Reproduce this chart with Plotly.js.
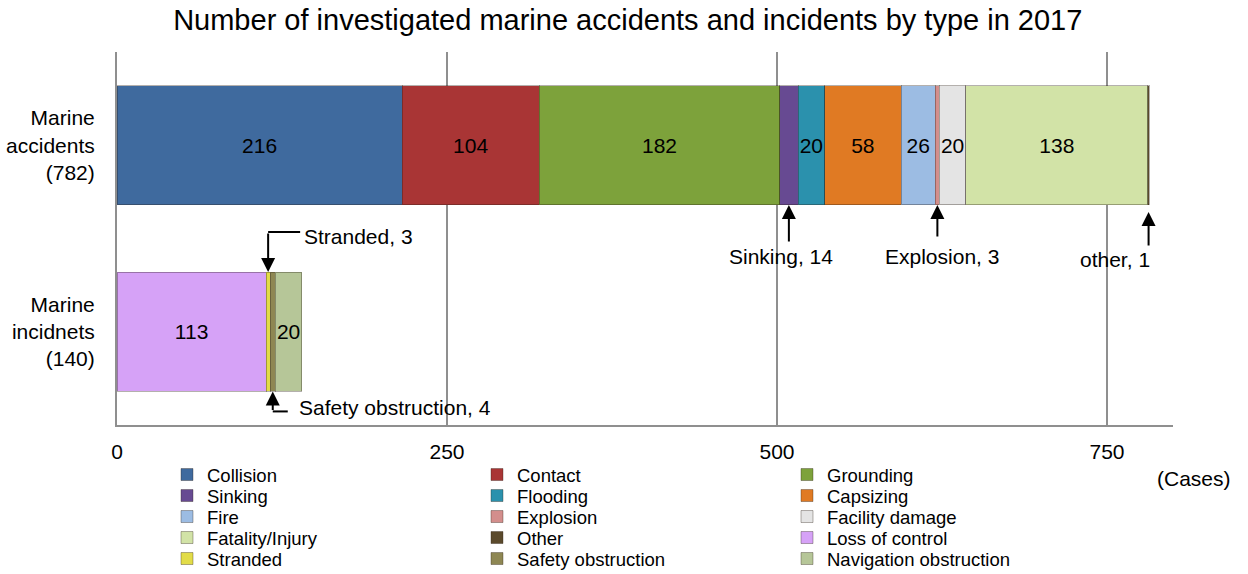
<!DOCTYPE html>
<html><head><meta charset="utf-8">
<script src="https://cdn.plot.ly/plotly-3.0.1.min.js"></script>
<style>html,body{margin:0;padding:0;background:#fff}#chart{width:1248px;height:574px}</style>
</head><body><div id="chart"></div>
<script>
const categories = ['Marine<br>accidents<br>(782)', 'Marine<br>incidnets<br>(140)'];
const types = ['Collision','Contact','Grounding','Sinking','Flooding','Capsizing','Fire','Explosion','Facility damage','Fatality/Injury','Other','Loss of control','Stranded','Safety obstruction','Navigation obstruction'];
const accidents = [216,104,182,14,20,58,26,3,20,138,1,null,null,null,null];
const incidents = [null,null,null,null,null,null,null,null,null,null,null,113,3,4,20];
const colors = ['#3F6A9E','#A93535','#7DA23B','#674A92','#2B91AD','#E07A23','#9CBCE3','#D38E8C','#E4E4E4','#D2E3A7','#5B4A2C','#D6A2F7','#E2DC48','#8E8753','#B6C698'];
const xTicks = [0, 250, 500, 750];
const calloutNames = {'Sinking':'Sinking','Explosion':'Explosion','Other':'other','Stranded':'Stranded','Safety obstruction':'Safety obstruction'};

const FONT = 'Liberation Sans, Arial, sans-serif';
const W = 1248, H = 574;
const M = {l:117, r:75, t:52, b:149};
const bargap = 0.36;
const half = (1 - bargap) / 2;
const pxPerCat = (H - M.t - M.b) / categories.length;

// cumulative starts
const starts = types.map(() => [0, 0]);
const cum = [0, 0];
types.forEach((t, i) => {
  [accidents[i], incidents[i]].forEach((v, c) => {
    starts[i][c] = cum[c];
    if (v) cum[c] += v;
  });
});

const traces = types.map((t, i) => {
  const vals = [accidents[i], incidents[i]];
  return {
    type: 'bar', orientation: 'h', name: t,
    x: vals, y: categories,
    marker: {color: colors[i], line: {color: 'rgba(40,30,20,0.35)', width: 1}},
    text: vals.map(v => (v != null && v >= 20) ? String(v) : ''),
    textposition: 'inside', insidetextanchor: 'middle', textangle: 0,
    constraintext: 'none',
    textfont: {family: FONT, size: 21, color: '#000'},
    legend: Math.floor(i / 3) === 0 ? 'legend' : 'legend' + (Math.floor(i / 3) + 1),
    hoverinfo: 'name+x'
  };
});

function idx(name) { return types.indexOf(name); }
function center(name, c) { const i = idx(name); const v = c === 0 ? accidents[i] : incidents[i]; return starts[i][c] + v / 2; }
function val(name) { const i = idx(name); return accidents[i] != null ? accidents[i] : incidents[i]; }
function label(name) { return calloutNames[name] + ', ' + val(name); }

const annFont = {family: FONT, size: 21, color: '#000'};
const arrowStyle = {showarrow: true, arrowhead: 2, arrowsize: 1.4, arrowwidth: 2, arrowcolor: '#000'};
const annotations = [];
const shapes = [];

// Vertical arrows below the accidents bar
[['Sinking', 38, 0, -8, 'center', -38], ['Explosion', 33, 0, 5, 'center', -38], ['Other', 42, 7, 3, 'right', -41]].forEach(([n, ay, standoff, xs, xa, ys]) => {
  const cx = center(n, 0);
  annotations.push(Object.assign({x: cx, y: 0 + half, xref: 'x', yref: 'y', text: '', ax: 0, ay: ay, standoff: standoff}, arrowStyle));
  annotations.push({x: cx, y: 0 + half, xref: 'x', yref: 'y', text: label(n), showarrow: false, xanchor: xa, xshift: xs, yanchor: 'top', yshift: ys, font: annFont});
});

// Elbow callouts on the incidents bar
(function () {
  const cx = center('Stranded', 1);
  const tip = 1 - half, tail = tip - 40 / pxPerCat;
  annotations.push(Object.assign({x: cx, y: tip, xref: 'x', yref: 'y', text: '', axref: 'x', ayref: 'y', ax: cx, ay: tail}, arrowStyle));
  shapes.push({type: 'line', xref: 'x', yref: 'y', xsizemode: 'pixel', xanchor: cx, x0: 0, x1: 32, y0: tail, y1: tail, line: {color: '#000', width: 2}});
  annotations.push({x: cx, y: tail, xref: 'x', yref: 'y', text: label('Stranded'), showarrow: false, xanchor: 'left', xshift: 34, yanchor: 'middle', yshift: -4, font: annFont});
})();
(function () {
  const cx = center('Safety obstruction', 1);
  const tip = 1 + half, tail = tip + 20 / pxPerCat;
  annotations.push(Object.assign({x: cx, y: tip, xref: 'x', yref: 'y', text: '', axref: 'x', ayref: 'y', ax: cx, ay: tail}, arrowStyle));
  shapes.push({type: 'line', xref: 'x', yref: 'y', xsizemode: 'pixel', xanchor: cx, x0: 0, x1: 15, y0: tail, y1: tail, line: {color: '#000', width: 2}});
  annotations.push({x: cx, y: tail, xref: 'x', yref: 'y', text: label('Safety obstruction'), showarrow: false, xanchor: 'left', xshift: 24, yanchor: 'middle', yshift: 4, font: annFont});
})();

// (Cases) unit label
annotations.push({xref: 'paper', yref: 'paper', x: (1194 - M.l) / (W - M.l - M.r), y: -(478 - (H - M.b)) / (H - M.t - M.b), text: '(Cases)', showarrow: false, xanchor: 'center', yanchor: 'middle', font: annFont});

const layout = {
  width: W, height: H,
  margin: Object.assign({autoexpand: false, pad: 0}, M),
  paper_bgcolor: '#fff', plot_bgcolor: '#fff',
  font: {family: FONT, size: 21, color: '#000'},
  title: {text: 'Number of investigated marine accidents and incidents by type in 2017', font: {family: FONT, size: 29, color: '#000'}, xref: 'container', x: 0.503, yref: 'container', y: 1 - 20 / H, yanchor: 'middle', xanchor: 'center'},
  barmode: 'stack', bargap: bargap,
  xaxis: {range: [0, 800], tickvals: xTicks, ticktext: xTicks.map(String), showgrid: true, gridcolor: '#8f8f8f', gridwidth: 1.5, zeroline: false, showline: true, linecolor: '#8f8f8f', linewidth: 2, ticks: '', ticklabelstandoff: 7, tickfont: {family: FONT, size: 21, color: '#000'}, fixedrange: true},
  yaxis: {type: 'category', range: [1.5, -0.5], showgrid: false, zeroline: false, showline: true, linecolor: '#8f8f8f', linewidth: 2, ticks: '', ticklabelstandoff: 16, tickfont: {family: FONT, size: 21, color: '#000'}, fixedrange: true},
  annotations: annotations,
  shapes: shapes,
  showlegend: true
};
for (let r = 0; r < 5; r++) {
  const key = r === 0 ? 'legend' : 'legend' + (r + 1);
  layout[key] = {orientation: 'h', xref: 'container', yref: 'container', x: 167 / W, xanchor: 'left', y: 1 - (475 + r * 21) / H, yanchor: 'middle', entrywidth: 265, entrywidthmode: 'pixels', font: {family: FONT, size: 18.5, color: '#000'}, bgcolor: 'rgba(0,0,0,0)', borderwidth: 0, traceorder: 'normal', itemclick: false, itemdoubleclick: false};
}
Plotly.newPlot('chart', traces, layout, {displayModeBar: false, staticPlot: true});
</script></body></html>
